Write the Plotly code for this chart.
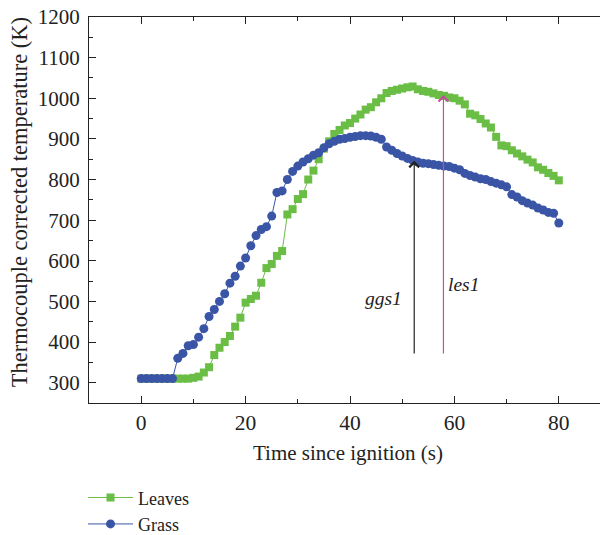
import plotly.graph_objects as go

time_s = list(range(0, 81))

leaves_K = [310, 310, 310, 310, 310, 310, 310, 310, 310, 310,
            312, 315, 325, 338, 368, 386, 400, 415, 438, 460,
            497, 506, 514, 546, 582, 592, 612, 624, 714, 727,
            752, 764, 800, 822, 850, 876, 894, 912, 922, 933,
            939, 950, 960, 972, 978, 990, 1000, 1013, 1018, 1021,
            1024, 1027, 1029, 1022, 1018, 1016, 1012, 1008, 1006, 1002,
            1000, 994, 985, 962, 958, 949, 938, 928, 905, 884,
            882, 872, 864, 857, 849, 842, 830, 824, 816, 809,
            798]

grass_K = [310, 310, 310, 310, 310, 310, 310, 360, 372, 391,
           394, 412, 433, 463, 480, 500, 519, 545, 562, 587,
           607, 637, 662, 677, 684, 710, 768, 772, 800, 820,
           833, 843, 851, 860, 866, 878, 888, 894, 899, 901,
           904, 906, 908, 908, 907, 904, 899, 880, 872, 864,
           858, 852, 847, 843, 840, 839, 837, 835, 833, 832,
           828, 824, 815, 810, 806, 802, 800, 795, 791, 787,
           782, 763, 757, 748, 742, 737, 730, 725, 719, 717,
           693]

series_names = ["Leaves", "Grass"]
x_ticks = [0, 20, 40, 60, 80]
y_ticks = [300, 400, 500, 600, 700, 800, 900, 1000, 1100, 1200]
x_title = "Time since ignition (s)"
y_title = "Thermocouple corrected temperature (K)"

arrow_labels = ["ggs1", "les1"]
arrow_x = [52.3, 57.9]
arrow_tail_y = [368, 368]
arrow_tip_y = [846, 1008]
label_x = [46.4, 61.7]
label_y = [508, 541]

GREEN = "#6abd45"
BLUE = "#3a55a5"
PINK = "#c2509c"
INK = "#222222"
FONT = "Liberation Serif"

fig = go.Figure()
fig.add_trace(go.Scatter(
    x=time_s, y=leaves_K, name=series_names[0], mode="lines+markers",
    line=dict(color=GREEN, width=1),
    marker=dict(symbol="square", size=8, color=GREEN),
))
fig.add_trace(go.Scatter(
    x=time_s, y=grass_K, name=series_names[1], mode="lines+markers",
    line=dict(color=BLUE, width=1),
    marker=dict(symbol="circle", size=9, color=BLUE),
))

colors = [INK, PINK]
for i in range(2):
    fig.add_annotation(
        x=arrow_x[i], y=arrow_tip_y[i], ax=arrow_x[i], ay=arrow_tail_y[i],
        xref="x", yref="y", axref="x", ayref="y",
        text="", showarrow=True, arrowhead=4, arrowsize=1.6,
        arrowwidth=1.2, arrowcolor=colors[i], standoff=0,
    )
    fig.add_annotation(
        x=label_x[i], y=label_y[i], xref="x", yref="y",
        text="<i>%s</i>" % arrow_labels[i], showarrow=False,
        font=dict(family=FONT, size=19.5, color=INK),
    )

# axis titles as annotations (fixed placement)
fig.add_annotation(
    x=-0.134, y=0.52, xref="paper", yref="paper", text=y_title,
    textangle=-90, showarrow=False, xanchor="center", yanchor="middle",
    font=dict(family=FONT, size=22.5, color=INK),
)
fig.add_annotation(
    x=0.496, y=-0.129, xref="paper", yref="paper", text=x_title,
    showarrow=False, xanchor="center", yanchor="middle",
    font=dict(family=FONT, size=21, color=INK),
)

axis_common = dict(
    showgrid=False, zeroline=False, showline=True, linecolor=INK,
    linewidth=1.2, mirror="ticks", ticks="inside", ticklen=7,
    tickwidth=1, tickcolor=INK, automargin=False,
    ticklabeloverflow="allow",
)

fig.update_xaxes(
    range=[-10, 90], tickvals=x_ticks,
    tickfont=dict(family=FONT, size=21.5, color=INK),
    minor=dict(ticks="inside", ticklen=4, dtick=10, tick0=0, tickcolor=INK),
    **axis_common,
)
fig.update_yaxes(
    range=[250, 1200], tickvals=y_ticks, ticklabelstandoff=4,
    tickfont=dict(family=FONT, size=21, color=INK),
    minor=dict(ticks="inside", ticklen=4, dtick=50, tick0=0, tickcolor=INK),
    **axis_common,
)

fig.update_layout(
    width=608, height=535,
    margin=dict(l=81, r=5, t=9, b=140, autoexpand=False),
    paper_bgcolor="white", plot_bgcolor="white",
    font=dict(family=FONT, size=18, color=INK),
    showlegend=True,
    legend=dict(
        xref="container", yref="container", x=0.1234, y=0.119,
        xanchor="left", yanchor="top", bgcolor="rgba(0,0,0,0)",
        font=dict(family=FONT, size=18, color=INK),
        tracegroupgap=0, itemwidth=45,
    ),
)

fig.write_html("out.html")
